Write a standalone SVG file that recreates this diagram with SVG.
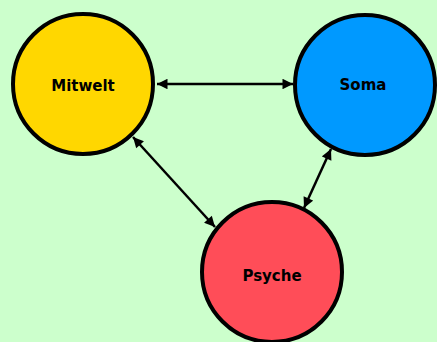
<svg xmlns="http://www.w3.org/2000/svg" width="437" height="342" viewBox="0 0 437 342">
<style>
.node{stroke:#000;stroke-width:4}
.lbl{font-family:"DejaVu Sans",Verdana,sans-serif;font-weight:bold;font-size:15px;text-anchor:middle;fill:#000}
.conn{stroke:#000;stroke-width:2.5;fill:none;marker-start:url(#ah);marker-end:url(#ah)}
</style>
<defs>
<marker id="ah" viewBox="0 0 10 10" refX="10" refY="5" markerWidth="5" markerHeight="4.2" orient="auto-start-reverse">
<path d="M0,0 L10,5 L0,10 z" fill="#000"/>
</marker>
</defs>
<rect width="437" height="342" fill="#CCFFCC"/>
<g id="connectors">
<line class="conn" x1="157" y1="84" x2="293" y2="84"/>
<line class="conn" x1="133" y1="137" x2="215" y2="227"/>
<line class="conn" x1="331" y1="149" x2="304" y2="208"/>
</g>
<g id="mitwelt">
<circle class="node" cx="83" cy="84" r="70" fill="#FFD700"/>
<text class="lbl" x="83" y="90.5">Mitwelt</text>
</g>
<g id="soma">
<circle class="node" cx="365" cy="85" r="70" fill="#0099FF"/>
<text class="lbl" x="363" y="90">Soma</text>
</g>
<g id="psyche">
<circle class="node" cx="272" cy="272" r="70" fill="#FF4D58"/>
<text class="lbl" x="272" y="281">Psyche</text>
</g>
</svg>
